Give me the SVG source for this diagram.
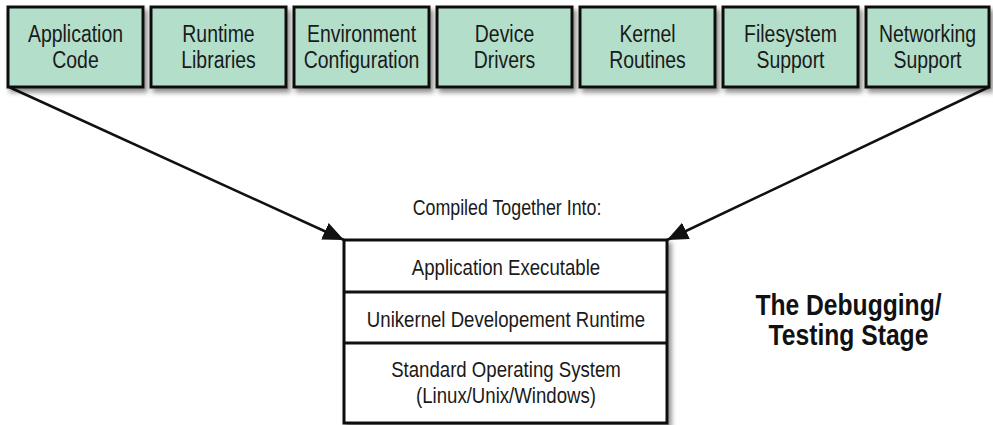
<svg xmlns="http://www.w3.org/2000/svg" width="993" height="425" viewBox="0 0 993 425">
<style>
.box{fill:#b3dfca;stroke:#111;stroke-width:3;filter:url(#sh)}
.wbox{fill:#fff;stroke:#111;stroke-width:3;filter:url(#sh)}
.t{font-family:"Liberation Sans",Arial,sans-serif;font-size:24px;fill:#1a1a1a;text-anchor:middle}
.s{font-family:"Liberation Sans",Arial,sans-serif;font-size:23px;fill:#1a1a1a;text-anchor:middle}
.k{font-family:"Liberation Sans",Arial,sans-serif;font-size:22px;fill:#1a1a1a;text-anchor:middle}
.b{font-family:"Liberation Sans",Arial,sans-serif;font-size:29px;font-weight:bold;fill:#111;text-anchor:middle}
.c{stroke:#111;stroke-width:2.5;fill:none;marker-end:url(#ah)}
</style>
<defs>
<filter id="sh" x="-10%" y="-10%" width="130%" height="140%">
<feDropShadow dx="3" dy="4" stdDeviation="2.5" flood-color="#000" flood-opacity="0.45"/>
</filter>
<marker id="ah" markerUnits="userSpaceOnUse" markerWidth="24" markerHeight="20" refX="21" refY="9" orient="auto">
<path d="M0,0 L21,9 L0,18 Z" fill="#111"/>
</marker>
</defs>
<rect width="993" height="425" fill="#fff"/>
<g id="connectors">
<line class="c" x1="9" y1="87" x2="344" y2="240"/>
<line class="c" x1="989" y1="87" x2="667" y2="240"/>
</g>
<g id="app-code"><rect class="box" x="8" y="7" width="135" height="80"/><g transform="scale(0.81 1)"><text class="t" x="93.21" y="42">Application</text><text class="t" x="93.21" y="68">Code</text></g></g>
<g id="runtime-libs"><rect class="box" x="151" y="7" width="135" height="80"/><g transform="scale(0.81 1)"><text class="t" x="269.75" y="42">Runtime</text><text class="t" x="269.75" y="68">Libraries</text></g></g>
<g id="env-config"><rect class="box" x="294" y="7" width="135" height="80"/><g transform="scale(0.81 1)"><text class="t" x="446.30" y="42">Environment</text><text class="t" x="446.30" y="68">Configuration</text></g></g>
<g id="device-drivers"><rect class="box" x="437" y="7" width="135" height="80"/><g transform="scale(0.81 1)"><text class="t" x="622.84" y="42">Device</text><text class="t" x="622.84" y="68">Drivers</text></g></g>
<g id="kernel-routines"><rect class="box" x="580" y="7" width="135" height="80"/><g transform="scale(0.81 1)"><text class="t" x="799.38" y="42">Kernel</text><text class="t" x="799.38" y="68">Routines</text></g></g>
<g id="filesystem"><rect class="box" x="723" y="7" width="135" height="80"/><g transform="scale(0.81 1)"><text class="t" x="975.93" y="42">Filesystem</text><text class="t" x="975.93" y="68">Support</text></g></g>
<g id="networking"><rect class="box" x="866" y="7" width="123" height="80"/><g transform="scale(0.81 1)"><text class="t" x="1145.06" y="42">Networking</text><text class="t" x="1145.06" y="68">Support</text></g></g>
<g id="compiled-label"><g transform="scale(0.81 1)"><text class="k" x="625.93" y="215">Compiled Together Into:</text></g></g>
<g id="stack">
<rect class="wbox" x="344" y="240" width="323" height="183"/>
<line x1="344" y1="292" x2="667" y2="292" stroke="#111" stroke-width="3"/>
<line x1="344" y1="343" x2="667" y2="343" stroke="#111" stroke-width="3"/>
<g transform="scale(0.81 1)">
<text class="s" x="624.69" y="275">Application Executable</text>
<text class="s" x="624.69" y="327">Unikernel Developement Runtime</text>
<text class="s" x="624.69" y="377">Standard Operating System</text>
<text class="s" x="624.69" y="403">(Linux/Unix/Windows)</text>
</g>
</g>
<g id="stage-label">
<g transform="scale(0.85 1)">
<text class="b" x="998.24" y="315">The Debugging/</text>
<text class="b" x="998.24" y="345">Testing Stage</text>
</g>
</g>
</svg>
